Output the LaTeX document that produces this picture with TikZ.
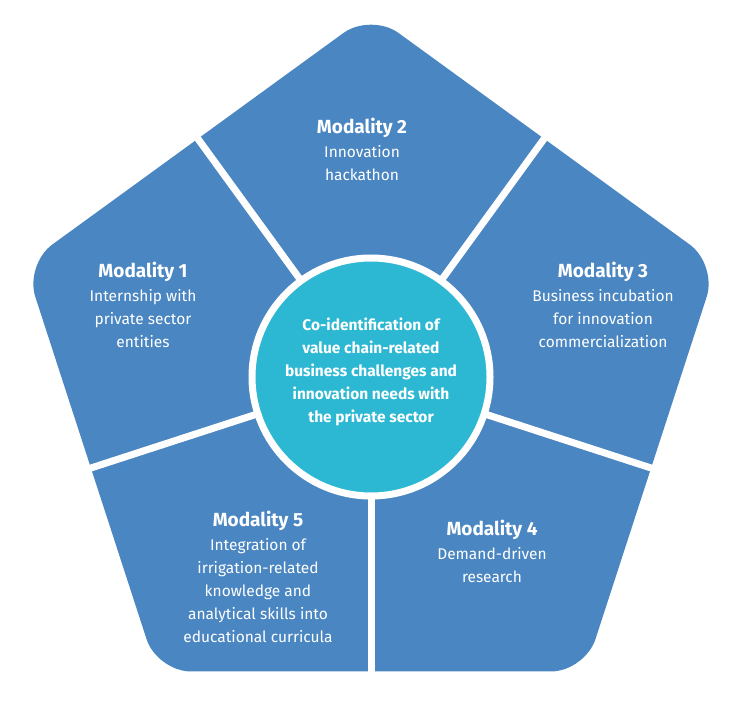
\documentclass[tikz,border=0pt]{standalone}
\usepackage{fontspec}
\usetikzlibrary{calc}
\setmainfont{Fira Sans}
\definecolor{pblue}{HTML}{4A86C1}
\definecolor{pteal}{HTML}{2CB8D2}
\begin{document}
\begin{tikzpicture}[x=1pt,y=1pt,
  ttl/.style={text=white,font=\fontsize{19}{23}\selectfont\bfseries,anchor=center},
  bdy/.style={text=white,font=\fontsize{15.5}{23}\selectfont,align=center,anchor=north}]
\useasboundingbox (0,0) rectangle (746,702);
\coordinate (c) at (371,325);
\fill[pblue,rounded corners=34pt] ($(c)+(90:364)$) -- ($(c)+(162:364)$) -- ($(c)+(234:364)$) -- ($(c)+(306:364)$) -- ($(c)+(18:364)$) -- cycle;
\foreach \a in {54,126,198,270,342}
  \draw[white,line width=7pt] (c) -- ++(\a:330);
\node[circle,fill=pteal,draw=white,line width=7pt,minimum size=238pt] (ctr) at (c) {};
\node[text=white,font=\fontsize{15.5}{23}\selectfont\bfseries,align=center] (ct) at (371,330)
 {Co-identification of\\value chain-related\\business challenges and\\innovation needs with\\the private sector};
\node[ttl] (t2) at (362,574) {Modality 2};
\node[bdy] (b2) at (362,560) {Innovation\\hackathon};
\node[ttl] (t1) at (143,430) {Modality 1};
\node[bdy] (b1) at (143,416) {Internship with\\private sector\\entities};
\node[ttl] (t3) at (603,430) {Modality 3};
\node[bdy] (b3) at (603,416) {Business incubation\\for innovation\\commercialization};
\node[ttl] (t4) at (492,172) {Modality 4};
\node[bdy] (b4) at (492,158) {Demand-driven\\research};
\node[ttl] (t5) at (258,181) {Modality 5};
\node[bdy] (b5) at (258,167) {Integration of\\irrigation-related\\knowledge and\\analytical skills into\\educational curricula};
\end{tikzpicture}
\end{document}
